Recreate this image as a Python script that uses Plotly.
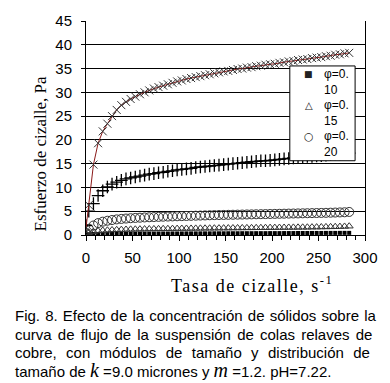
import plotly.graph_objects as go

# shear rate (s^-1)
shear_rate = [0, 3, 8, 13, 18, 23, 28, 33, 38, 43, 48, 53, 58, 63, 68, 73, 78, 83, 88, 93,
              98, 103, 108, 113, 118, 123, 128, 133, 138, 143, 148, 153, 158, 163, 168, 173,
              178, 183, 188, 193, 198, 203, 208, 213, 218, 223, 228, 233, 238, 243, 248, 253,
              258, 263, 268, 273, 278, 283]

phi_010 = [0.1, 0.15, 0.2, 0.22, 0.24, 0.25, 0.26, 0.27, 0.28, 0.28, 0.29, 0.29, 0.3, 0.3, 0.31,
           0.31, 0.32, 0.32, 0.32, 0.33, 0.33, 0.33, 0.34, 0.34, 0.34, 0.35, 0.35, 0.35, 0.36,
           0.36, 0.36, 0.37, 0.37, 0.37, 0.38, 0.38, 0.38, 0.39, 0.39, 0.39, 0.4, 0.4, 0.4, 0.41,
           0.41, 0.41, 0.42, 0.42, 0.42, 0.43, 0.43, 0.43, 0.44, 0.44, 0.44, 0.45, 0.45, 0.45]

phi_015 = [0.2, 0.5, 0.7, 0.85, 0.95, 1.0, 1.05, 1.1, 1.13, 1.16, 1.19, 1.21, 1.23, 1.25, 1.27,
           1.28, 1.3, 1.31, 1.32, 1.34, 1.35, 1.36, 1.37, 1.38, 1.39, 1.4, 1.41, 1.42, 1.43, 1.44,
           1.45, 1.46, 1.47, 1.48, 1.49, 1.5, 1.51, 1.52, 1.53, 1.54, 1.55, 1.56, 1.57, 1.58,
           1.59, 1.6, 1.61, 1.62, 1.63, 1.65, 1.66, 1.68, 1.7, 1.72, 1.74, 1.77, 1.8, 1.85]

phi_020 = [0.5, 1.3, 2.0, 2.5, 2.8, 3.0, 3.15, 3.28, 3.38, 3.46, 3.53, 3.59, 3.64, 3.69, 3.73,
           3.77, 3.81, 3.85, 3.88, 3.91, 3.94, 3.97, 4.0, 4.03, 4.06, 4.09, 4.12, 4.15, 4.18,
           4.2, 4.22, 4.24, 4.26, 4.28, 4.3, 4.32, 4.34, 4.36, 4.38, 4.4, 4.42, 4.44, 4.46,
           4.48, 4.5, 4.52, 4.54, 4.56, 4.58, 4.6, 4.62, 4.64, 4.66, 4.69, 4.72, 4.75, 4.78, 4.85]

phi_025 = [2.0, 5.0, 6.6, 8.3, 9.3, 10.1, 10.7, 11.1, 11.5, 11.8, 12.0, 12.2, 12.4, 12.6, 12.8,
           12.9, 13.1, 13.2, 13.4, 13.5, 13.7, 13.8, 13.9, 14.0, 14.2, 14.3, 14.4, 14.5, 14.6,
           14.7, 14.8, 14.9, 15.0, 15.1, 15.2, 15.3, 15.4, 15.5, 15.6, 15.6, 15.7, 15.8, 15.9,
           16.0, 16.1, 16.2, 16.3, 16.4, 16.5, 16.5, 16.6, 16.7, 16.8, 16.9, 17.0, 17.0, 17.1, 17.2]

phi_030 = [1.5, 6.3, 14.8, 19.3, 21.8, 23.4, 25.0, 26.3, 27.3, 28.0, 28.6, 29.1, 29.6, 30.0,
           30.4, 30.8, 31.1, 31.4, 31.7, 32.0, 32.3, 32.5, 32.8, 33.0, 33.2, 33.4, 33.6, 33.8,
           34.0, 34.2, 34.4, 34.5, 34.7, 34.9, 35.0, 35.2, 35.3, 35.5, 35.6, 35.8, 35.9, 36.0,
           36.2, 36.3, 36.5, 36.6, 36.8, 36.9, 37.0, 37.2, 37.3, 37.4, 37.6, 37.7, 37.9, 38.0,
           38.2, 38.3]

legend_symbols = ["■", "△", "○"]
legend_labels = ["φ=0.<br>10", "φ=0.<br>15", "φ=0.<br>20"]
x_ticks = [0, 50, 100, 150, 200, 250, 300]
y_ticks = [0, 5, 10, 15, 20, 25, 30, 35, 40, 45]

fig = go.Figure()
fig.add_trace(go.Scatter(x=shear_rate, y=phi_010, mode="markers", name="φ=0.10",
                         marker=dict(symbol="square", size=4, color="black")))
fig.add_trace(go.Scatter(x=shear_rate, y=phi_015, mode="markers", name="φ=0.15",
                         marker=dict(symbol="triangle-up-open", size=7, color="#333",
                                     line=dict(width=1, color="#333"))))
fig.add_trace(go.Scatter(x=shear_rate, y=phi_020, mode="markers", name="φ=0.20",
                         marker=dict(symbol="circle-open", size=9, color="#333",
                                     line=dict(width=1, color="#333"))))
fig.add_trace(go.Scatter(x=shear_rate, y=phi_025, mode="markers", name="φ=0.25",
                         marker=dict(symbol="cross-thin-open", size=9, color="black",
                                     line=dict(width=1.3, color="black"))))
fig.add_trace(go.Scatter(x=shear_rate, y=phi_030, mode="lines+markers", name="φ=0.30",
                         line=dict(color="#8b1a1a", width=1),
                         marker=dict(symbol="x-thin-open", size=8, color="#333",
                                     line=dict(width=1, color="#333"))))

serif = "Liberation Serif, Times New Roman, serif"
sans = "Liberation Sans, Arial, sans-serif"

fig.update_layout(
    width=390, height=383,
    margin=dict(l=86, r=22, t=16, b=148),
    paper_bgcolor="white", plot_bgcolor="white",
    font=dict(family=sans, size=15, color="black"),
    showlegend=False,
    xaxis=dict(range=[0, 300], tickvals=x_ticks, showgrid=False, zeroline=False,
               showline=True, linecolor="black", linewidth=1,
               ticks="outside", ticklen=5, tickcolor="black", ticklabelstandoff=4,
               minor=dict(dtick=10, ticks="outside", ticklen=4, tickcolor="black"),
               tickfont=dict(size=15, family=sans)),
    yaxis=dict(range=[0, 45], tickvals=y_ticks, showgrid=True, gridcolor="black", gridwidth=1,
               zeroline=False, showline=True, linecolor="black", linewidth=1, mirror=True,
               ticks="outside", ticklen=4, tickcolor="black", ticklabelstandoff=6,
               tickfont=dict(size=15, family=sans)),
)

def px_x(p):
    return (p - 86) / 282

def px_y(p):
    return (235 - p) / 219

# legend box
fig.add_shape(type="rect", xref="paper", yref="paper", layer="above",
              x0=px_x(292), x1=px_x(358), y0=px_y(159), y1=px_y(62),
              fillcolor="white", line=dict(color="black", width=1))

annotations = [
    dict(text="Esfuerzo de cizalle, Pa", textangle=-90, x=px_x(40), y=px_y(152),
         font=dict(family=serif, size=17)),
    dict(text="<span style='letter-spacing:1.5px'>Tasa de cizalle, s<sup>-1</sup></span>",
         x=px_x(254), y=px_y(286), font=dict(family=serif, size=18)),
]
entry_centers = [78, 110, 142]
for sym, lab, yc, sz in zip(legend_symbols, legend_labels, entry_centers, [9, 10, 11]):
    annotations.append(dict(text=sym, x=px_x(311), y=px_y(yc - 7.5),
                            font=dict(family="DejaVu Sans", size=sz, color="#222")))
    annotations.append(dict(text=lab, x=px_x(326), y=px_y(yc), xanchor="left", align="left",
                            font=dict(family=sans, size=12), borderpad=0))

caption = [
    "<span style='word-spacing:1px'>Fig. 8. Efecto de la concentración de sólidos sobre la</span>",
    "<span style='word-spacing:2px'>curva de flujo de la suspensión de colas relaves de</span>",
    "<span style='word-spacing:5.2px'>cobre, con módulos de tamaño y distribución de</span>",
    "tamaño de <i><span style='font-family:Liberation Serif;font-size:20px'>k</span></i> =9.0 micrones y "
    "<i><span style='font-family:Liberation Serif;font-size:20px'>m</span></i> =1.2. pH=7.22.",
]
cap_y = [317, 337, 355, 373]
for t, yy in zip(caption, cap_y):
    annotations.append(dict(text=t, x=px_x(12), y=px_y(yy), xanchor="left", yanchor="middle",
                            font=dict(family=sans, size=15)))
for a in annotations:
    a.update(xref="paper", yref="paper", showarrow=False)
    a.setdefault("xanchor", "center")
    a.setdefault("yanchor", "middle")
fig.update_layout(annotations=annotations)

fig.write_html("out.html", config={"displayModeBar": False},
               post_script="document.body.style.margin='0';document.body.style.overflow='hidden';")
